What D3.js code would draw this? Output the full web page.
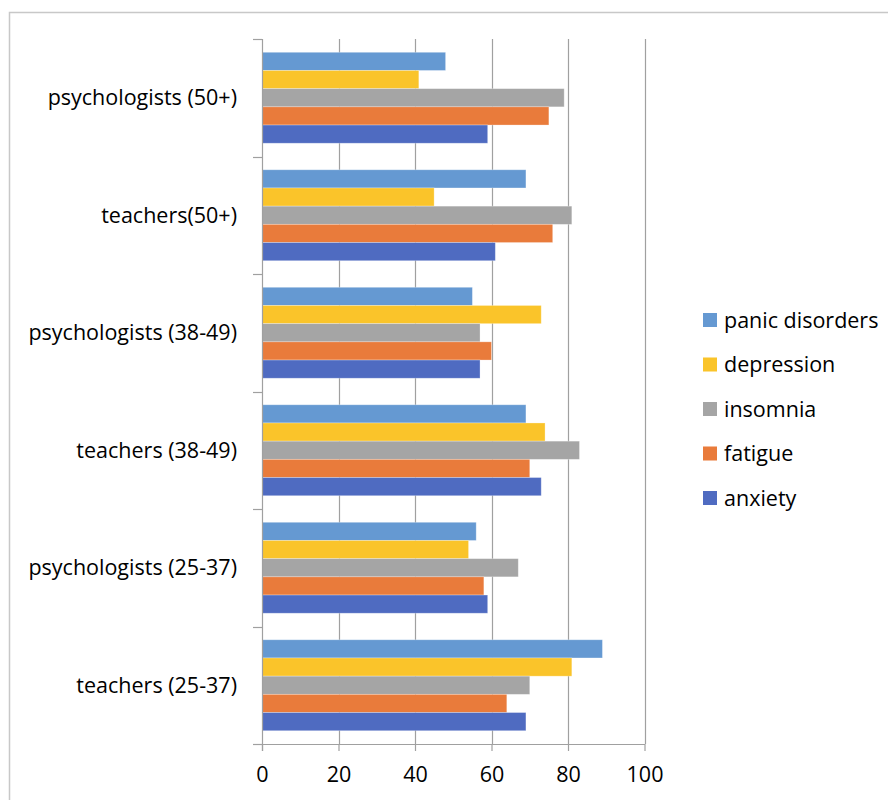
<!DOCTYPE html>
<html>
<head>
<meta charset="utf-8">
<script src="https://cdn.jsdelivr.net/npm/d3@7"></script>
<style>
  body { margin: 0; background: #fff; }
  text { font-family: "Open Sans", "Noto Sans", sans-serif; fill: #000; }
</style>
</head>
<body>
<div id="chart"></div>
<script>
// groups, top to bottom
var categories = ["psychologists (50+)", "teachers(50+)", "psychologists (38-49)",
                  "teachers (38-49)", "psychologists (25-37)", "teachers (25-37)"];
// series, top to bottom inside a group
var seriesNames = ["panic disorders", "depression", "insomnia", "fatigue", "anxiety"];
var panic      = [48, 69, 55, 69, 56, 89];
var depression = [41, 45, 73, 74, 54, 81];
var insomnia   = [79, 81, 57, 83, 67, 70];
var fatigue    = [75, 76, 60, 70, 58, 64];
var anxiety    = [59, 61, 57, 73, 59, 69];
var xTicks = [0, 20, 40, 60, 80, 100];

var seriesValues = [panic, depression, insomnia, fatigue, anxiety];
var colors = ["#6599D2", "#FAC42A", "#A5A5A5", "#E97B3B", "#4F6BC1"];

var width = 888, height = 800;
var svg = d3.select("#chart").append("svg")
  .attr("width", width)
  .attr("height", height);

// chart frame
svg.append("path")
  .attr("d", "M9.5," + height + "V12.5H" + width)
  .attr("fill", "none")
  .attr("stroke", "#C8C8C8")
  .attr("stroke-width", 1.5);

var plot = { left: 262, right: 644.5, top: 39, bottom: 744 };
var fontSize = 21.5;

var x = d3.scaleLinear().domain([0, 100]).range([plot.left, plot.right]);
var y0 = d3.scaleBand().domain(categories).range([plot.top, plot.bottom]).paddingInner(0).paddingOuter(0);
var y1 = d3.scaleBand().domain(seriesNames).range([0, y0.bandwidth()]).paddingOuter(0.73).paddingInner(0);

// vertical gridlines
svg.append("g").selectAll("line")
  .data(xTicks.slice(1))
  .join("line")
  .attr("x1", d => Math.round(x(d)) + 0.5)
  .attr("x2", d => Math.round(x(d)) + 0.5)
  .attr("y1", plot.top)
  .attr("y2", plot.bottom)
  .attr("stroke", "#A0A0A0")
  .attr("stroke-width", 1.2);

// bars
var groups = svg.append("g").selectAll("g")
  .data(categories)
  .join("g")
  .attr("transform", d => "translate(0," + y0(d) + ")");

groups.selectAll("rect")
  .data((c, i) => seriesNames.map((s, j) => ({ s: s, v: seriesValues[j][i], c: colors[j] })))
  .join("rect")
  .attr("x", x(0))
  .attr("y", d => y1(d.s))
  .attr("width", d => x(d.v) - x(0))
  .attr("height", y1.bandwidth())
  .attr("fill", d => d.c)
  .attr("stroke", "#ffffff")
  .attr("stroke-opacity", 0.35)
  .attr("stroke-width", 0.8);

// x axis
var xAxis = svg.append("g")
  .attr("transform", "translate(0," + plot.bottom + ")")
  .call(d3.axisBottom(x).tickValues(xTicks).tickSize(7).tickPadding(16).tickSizeOuter(0));
xAxis.select(".domain").attr("stroke", "#A0A0A0").attr("stroke-width", 1.2);
xAxis.selectAll(".tick line").attr("stroke", "#A0A0A0").attr("stroke-width", 1.2);
xAxis.selectAll(".tick text")
  .attr("font-size", fontSize)
  .attr("font-family", "'Open Sans', sans-serif")
  .attr("fill", "#000");

// y axis: ticks at group boundaries
var yAxis = svg.append("g");
yAxis.append("line")
  .attr("x1", plot.left + 0.5).attr("x2", plot.left + 0.5)
  .attr("y1", plot.top).attr("y2", plot.bottom + 7)
  .attr("stroke", "#A0A0A0").attr("stroke-width", 1.2);
yAxis.selectAll("line.tk")
  .data(d3.range(categories.length + 1))
  .join("line")
  .attr("class", "tk")
  .attr("x1", plot.left - 9).attr("x2", plot.left)
  .attr("y1", i => Math.round(plot.top + i * y0.step()) + 0.5)
  .attr("y2", i => Math.round(plot.top + i * y0.step()) + 0.5)
  .attr("stroke", "#A0A0A0").attr("stroke-width", 1.2);
yAxis.selectAll("text")
  .data(categories)
  .join("text")
  .attr("x", plot.left - 25)
  .attr("y", d => y0(d) + y0.bandwidth() / 2)
  .attr("dy", "0.35em")
  .attr("text-anchor", "end")
  .attr("font-size", fontSize)
  .text(d => d);

// legend
var legend = svg.append("g").attr("transform", "translate(703,320)");
var items = legend.selectAll("g")
  .data(seriesNames)
  .join("g")
  .attr("transform", (d, i) => "translate(0," + i * 44.5 + ")");
items.append("rect")
  .attr("x", 0).attr("y", -7)
  .attr("width", 14).attr("height", 14)
  .attr("fill", (d, i) => colors[i]);
items.append("text")
  .attr("x", 21)
  .attr("dy", "0.35em")
  .attr("font-size", fontSize)
  .text(d => d);
</script>
</body>
</html>
